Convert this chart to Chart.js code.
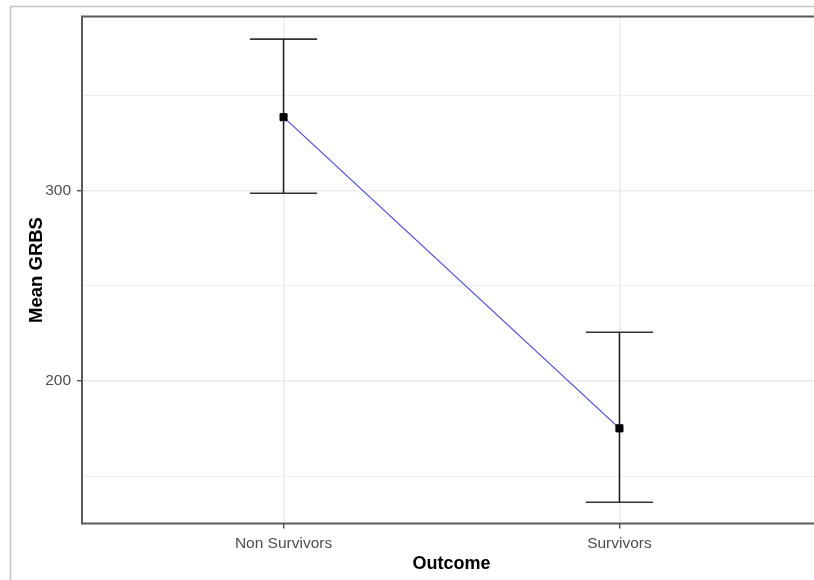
<!DOCTYPE html>
<html>
<head>
<meta charset="utf-8">
<script src="https://cdn.jsdelivr.net/npm/chart.js@4"></script>
<style>
  html, body { margin: 0; padding: 0; background: #fff; overflow: hidden; width: 814px; height: 580px; }
  canvas { display: block; }
</style>
</head>
<body>
<canvas id="c" width="830" height="580"></canvas>
<script>
// ---- data ----
const categories = ['Non Survivors', 'Survivors'];
const means = [338.6, 175.1];
const lower = [298.6, 136.3];
const upper = [379.6, 225.6];
const yTicks = [150, 200, 250, 300, 350];
const yLabelled = [200, 300];
const yMin = 125.1, yMax = 391.5;
const xMin = 0.4, xMax = 2.6;
const capHalf = 0.1;

const FONT = "'Liberation Sans', Arial, sans-serif";

const errColor = '#1a1a1a';
const datasets = [];
// mean points
datasets.push({
  data: means.map((m, i) => ({ x: i + 1, y: m })),
  showLine: false, pointStyle: 'rect', pointRadius: 5, pointBorderWidth: 1,
  pointBackgroundColor: '#000', pointBorderColor: '#000', order: 0
});
// connecting line
datasets.push({
  data: means.map((m, i) => ({ x: i + 1, y: m })),
  showLine: true, borderColor: '#4646f2', borderWidth: 1.2, pointRadius: 0, order: 1
});
// error bars
categories.forEach((c, i) => {
  const x = i + 1;
  datasets.push({ data: [{ x, y: lower[i] }, { x, y: upper[i] }], showLine: true, borderColor: errColor, borderWidth: 1.5, pointRadius: 0, order: 2 });
  datasets.push({ data: [{ x: x - capHalf, y: upper[i] }, { x: x + capHalf, y: upper[i] }], showLine: true, borderColor: '#333', borderWidth: 1.6, pointRadius: 0, order: 2 });
  datasets.push({ data: [{ x: x - capHalf, y: lower[i] }, { x: x + capHalf, y: lower[i] }], showLine: true, borderColor: '#333', borderWidth: 1.6, pointRadius: 0, order: 2 });
});

const framePlugin = {
  id: 'frames',
  beforeDraw(chart) {
    const ctx = chart.ctx;
    ctx.save();
    ctx.fillStyle = '#fff';
    ctx.fillRect(0, 0, chart.width, chart.height);
    ctx.strokeStyle = '#c4c4c4';
    ctx.lineWidth = 1.5;
    ctx.beginPath();
    ctx.moveTo(10.5, chart.height + 5);
    ctx.lineTo(10.5, 6.5);
    ctx.lineTo(chart.width + 5, 6.5);
    ctx.stroke();
    ctx.restore();
  },
  afterDraw(chart) {
    const a = chart.chartArea;
    const ctx = chart.ctx;
    ctx.save();
    ctx.strokeStyle = '#595959';
    ctx.lineWidth = 2;
    ctx.strokeRect(a.left, a.top, a.right - a.left, a.bottom - a.top);
    ctx.restore();
  }
};

new Chart(document.getElementById('c'), {
  type: 'scatter',
  data: { datasets },
  plugins: [framePlugin],
  options: {
    responsive: false,
    animation: false,
    events: [],
    layout: { padding: { left: 26, top: 16.5, right: 9, bottom: 5.2 } },
    plugins: { legend: { display: false }, tooltip: { enabled: false } },
    scales: {
      x: {
        type: 'linear', min: xMin, max: xMax,
        afterBuildTicks: (s) => { s.ticks = categories.map((c, i) => ({ value: i + 1 })); },
        afterFit: (s) => { s.height = 51.3; },
        ticks: {
          callback: (v, i) => categories[i],
          color: '#4d4d4d', font: { family: FONT, size: 15.5 }, padding: 6, maxRotation: 0
        },
        grid: { color: '#ebebeb', lineWidth: 1.5, drawTicks: true, tickLength: 5, tickColor: '#333', tickWidth: 1.2 },
        border: { display: false },
        title: { display: true, text: 'Outcome', color: '#000', font: { family: FONT, size: 18, weight: 'bold' }, padding: 0 }
      },
      y: {
        type: 'linear', min: yMin, max: yMax,
        afterBuildTicks: (s) => { s.ticks = yTicks.map(v => ({ value: v })); },
        afterFit: (s) => { s.width = 56; },
        ticks: {
          callback: (v) => yLabelled.includes(v) ? String(v) : '',
          color: '#4d4d4d', font: { family: FONT, size: 15.5 }, padding: 6
        },
        grid: {
          color: (ctx) => (ctx.tick && yLabelled.includes(ctx.tick.value)) ? '#ebebeb' : '#eeeeee',
          lineWidth: (ctx) => (ctx.tick && yLabelled.includes(ctx.tick.value)) ? 1.5 : 1.1,
          drawTicks: true, tickLength: 5,
          tickColor: (ctx) => (ctx.tick && yLabelled.includes(ctx.tick.value)) ? '#333' : 'rgba(0,0,0,0)',
          tickWidth: 1.2
        },
        border: { display: false },
        title: { display: true, text: 'Mean GRBS', color: '#000', font: { family: FONT, size: 18.5, weight: 'bold' }, padding: 0 }
      }
    }
  }
});
</script>
</body>
</html>
